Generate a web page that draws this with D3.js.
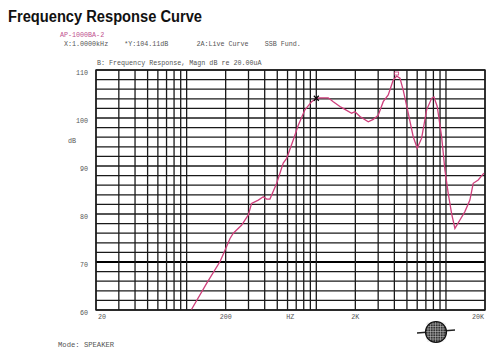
<!DOCTYPE html>
<html lang="en">
	<head>
		<meta charset="UTF-8">
		<title>Frequency Response Curve</title>
		<style>
			body, html {
				margin: 0;
				padding: 0;
				background-color: #ffffff;
			}
			.mono {
				font-family: "Liberation Mono", "DejaVu Sans Mono", monospace;
				fill: #555555;
			}
		</style>
	</head>
	<body>
		<svg id="svg" width="500" height="362"></svg>

		<script src="https://d3js.org/d3.v7.min.js"></script>
		<script>
			// measured response, Hz / dB
			const freqs = [109, 143, 181, 198, 216, 229, 266, 299, 317, 357, 390, 414, 439, 495, 556, 591, 664, 726, 817, 921, 1006, 1066, 1236, 1351, 1521, 1613, 1873, 1986, 2171, 2516, 2748, 3004, 3282, 3588, 3920, 4164, 4416, 4681, 5117, 5590, 6004, 6490, 7093, 7751, 8072, 8562, 9257, 9815, 10408, 11054, 11722, 12812, 13996, 15294, 16218, 17730, 19612]
			const levels = [60.1, 65.6, 70.1, 72.5, 74.9, 76.0, 77.7, 79.8, 82.2, 82.9, 83.6, 83.1, 83.1, 86.4, 90.6, 91.6, 95.4, 98.5, 101.7, 103.4, 104.1, 104.2, 104.2, 103.4, 102.4, 102.0, 101.0, 101.3, 100.3, 99.2, 99.7, 100.6, 103.4, 104.8, 107.9, 108.75, 108.3, 105.8, 101.0, 96.1, 93.7, 95.8, 101.7, 104.1, 104.4, 102.4, 96.1, 89.2, 84.3, 80.1, 77.0, 78.75, 80.5, 82.9, 86.4, 87.1, 88.5]

			const yTicks = [60, 70, 80, 90, 100, 110]
			const xLabels = [
				{ f: 20, text: '20' },
				{ f: 200, text: '200' },
				{ f: 630, text: 'HZ' },
				{ f: 2000, text: '2K' },
				{ f: 20000, text: '20K' }
			]
			const decadeSteps = [1, 1.5, 2, 2.5, 3, 3.5, 4, 4.5, 5]
			const markerFreq = 1000
			const markerLevel = 104.11

			const svg = d3.select('#svg')

			const x = d3.scaleLog().domain([20, 20000]).range([96, 485])
			const y = d3.scaleLinear().domain([60, 110]).range([310, 70])

			// title and header lines
			svg.append('text')
				.attr('x', 8)
				.attr('y', 22)
				.attr('textLength', 194)
				.attr('lengthAdjust', 'spacingAndGlyphs')
				.style('font-family', '"Liberation Sans", Arial, sans-serif')
				.style('font-weight', 'bold')
				.style('font-size', '16px')
				.style('fill', '#111')
				.text('Frequency Response Curve')

			svg.append('text')
				.attr('class', 'mono')
				.attr('x', 60)
				.attr('y', 37)
				.style('font-size', '6.7px')
				.style('fill', '#c0508e')
				.text('AP-1000BA-2')

			svg.append('text')
				.attr('class', 'mono')
				.attr('x', 64)
				.attr('y', 46)
				.style('font-size', '6.7px')
				.attr('xml:space', 'preserve')
				.text('X:1.0000kHz    *Y:104.11dB       2A:Live Curve    SSB Fund.')

			svg.append('text')
				.attr('class', 'mono')
				.attr('x', 97)
				.attr('y', 65)
				.style('font-size', '6.7px')
				.text('B: Frequency Response, Magn dB re 20.00uA')

			// grid
			const grid = svg.append('g')

			grid.selectAll('line.h')
				.data(d3.range(60, 111, 2))
				.enter()
				.append('line')
				.attr('x1', x(20))
				.attr('x2', x(20000))
				.attr('y1', d => y(d))
				.attr('y2', d => y(d))
				.attr('stroke', d => d === 70 ? '#000' : '#1a1a1a')
				.attr('stroke-width', d => d === 70 ? 2 : 1.3)

			const vLines = []
			;[20, 200, 2000].forEach(dec => decadeSteps.forEach(s => vLines.push(dec * s)))
			vLines.push(20000)

			grid.selectAll('line.v')
				.data(vLines)
				.enter()
				.append('line')
				.attr('x1', d => x(d))
				.attr('x2', d => x(d))
				.attr('y1', y(110))
				.attr('y2', y(60))
				.attr('stroke', '#1a1a1a')
				.attr('stroke-width', 1.3)

			grid.append('rect')
				.attr('x', x(20))
				.attr('y', y(110))
				.attr('width', x(20000) - x(20))
				.attr('height', y(60) - y(110))
				.attr('fill', 'none')
				.attr('stroke', '#1a1a1a')
				.attr('stroke-width', 1.4)

			// axis labels
			svg.selectAll('text.ytick')
				.data(yTicks)
				.enter()
				.append('text')
				.attr('class', 'mono')
				.attr('x', 88)
				.attr('y', d => y(d) + 5)
				.attr('text-anchor', 'end')
				.style('font-size', '6.7px')
				.text(d => d)

			svg.append('text')
				.attr('class', 'mono')
				.attr('x', 68)
				.attr('y', 143)
				.style('font-size', '6.7px')
				.text('dB')

			svg.selectAll('text.xtick')
				.data(xLabels)
				.enter()
				.append('text')
				.attr('class', 'mono')
				.attr('x', d => x(d.f) + (d.f === 20 ? 6 : d.f === 20000 ? -7 : 0))
				.attr('y', 319)
				.attr('text-anchor', 'middle')
				.style('font-size', '6.7px')
				.text(d => d.text)

			// response curve
			const data = freqs.map((f, i) => ({ f: f, db: levels[i] }))
			const line = d3.line()
				.x(d => x(d.f))
				.y(d => y(d.db))

			svg.append('path')
				.datum(data)
				.attr('d', line)
				.attr('fill', 'none')
				.attr('stroke', '#cf3f7c')
				.attr('stroke-width', 1.3)

			// cursor marker at 1 kHz
			const mx = x(markerFreq), my = y(markerLevel)
			svg.append('path')
				.attr('d', `M${mx - 2.5},${my - 2.5}L${mx + 2.5},${my + 2.5}M${mx - 2.5},${my + 2.5}L${mx + 2.5},${my - 2.5}`)
				.attr('stroke', '#000')
				.attr('stroke-width', 1.2)

			// peak marker
			const peak = data.reduce((a, b) => b.db > a.db ? b : a)
			svg.append('rect')
				.attr('x', x(peak.f) - 2)
				.attr('y', y(peak.db) - 4)
				.attr('width', 4)
				.attr('height', 3)
				.attr('fill', 'none')
				.attr('stroke', '#cf3f7c')
				.attr('stroke-width', 0.8)

			svg.append('text')
				.attr('class', 'mono')
				.attr('x', 58)
				.attr('y', 347)
				.style('font-size', '7.2px')
				.text('Mode: SPEAKER')

			// globe logo
			const logo = svg.append('g').attr('transform', 'translate(436,332)')
			logo.append('line')
				.attr('x1', -19).attr('x2', 19)
				.attr('y1', 1).attr('y2', -2)
				.attr('stroke', '#222').attr('stroke-width', 1.5)
			logo.append('circle')
				.attr('r', 10.5)
				.attr('fill', '#333')
			d3.range(-8, 9, 2.5).forEach(v => {
				logo.append('line')
					.attr('x1', -10).attr('x2', 10).attr('y1', v).attr('y2', v)
					.attr('stroke', '#ccc').attr('stroke-width', 0.5)
				logo.append('line')
					.attr('x1', v).attr('x2', v).attr('y1', -10).attr('y2', 10)
					.attr('stroke', '#ccc').attr('stroke-width', 0.5)
			})
			logo.append('circle')
				.attr('r', 10.5)
				.attr('fill', 'none')
				.attr('stroke', '#111').attr('stroke-width', 1.2)
		</script>
	</body>
</html>
